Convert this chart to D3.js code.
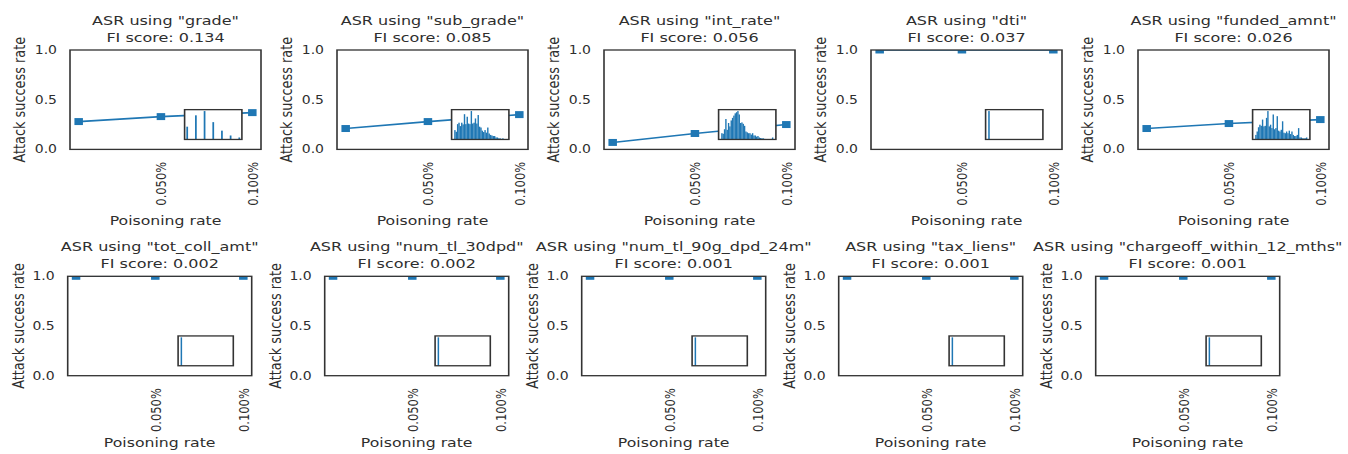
<!DOCTYPE html>
<html>
<head>
<meta charset="utf-8">
<script src="https://cdn.jsdelivr.net/npm/d3@7"></script>
<style>
  body { margin: 0; background: #fff; }
  svg text { font-family: "DejaVu Sans", sans-serif; fill: #2e2e2e; }
</style>
</head>
<body>
<svg id="chart" width="1348" height="454"></svg>
<script>
// ---- data -------------------------------------------------------------
const features = ["grade", "sub_grade", "int_rate", "dti", "funded_amnt",
  "tot_coll_amt", "num_tl_30dpd", "num_tl_90g_dpd_24m", "tax_liens", "chargeoff_within_12_mths"];
const fiScores = [0.134, 0.085, 0.056, 0.037, 0.026, 0.002, 0.002, 0.001, 0.001, 0.001];

const poisonRates = [0.005, 0.05, 0.1];          // percent
const asrGrade = [0.28, 0.33, 0.37];
const asrSubGrade = [0.21, 0.28, 0.35];
const asrIntRate = [0.07, 0.16, 0.25];
const asrDti = [1.0, 1.0, 1.0];
const asrFundedAmnt = [0.21, 0.26, 0.30];
const asrTotCollAmt = [1.0, 1.0, 1.0];
const asrNumTl30dpd = [1.0, 1.0, 1.0];
const asrNumTl90gDpd24m = [1.0, 1.0, 1.0];
const asrTaxLiens = [1.0, 1.0, 1.0];
const asrChargeoff12m = [1.0, 1.0, 1.0];

const rateTicks = [0.05, 0.1];
const asrTicks = [0.0, 0.5, 1.0];

// feature distributions shown in the inset (relative bin heights)
const gradeLevels = ["A", "B", "C", "D", "E", "F", "G"];
const gradeHist = [0.45, 0.85, 1.0, 0.61, 0.31, 0.14, 0.07];
const subGradeHist = [0.33, 0.27, 0.54, 0.59, 0.47, 0.59, 0.53, 0.89, 0.54, 0.80, 0.56, 0.54,
  1.0, 0.56, 0.59, 0.74, 0.56, 0.86, 0.45, 0.42, 0.31, 0.26, 0.33, 0.24, 0.42, 0.21, 0.16,
  0.14, 0.12, 0.12, 0.07, 0.07, 0.04, 0.04, 0.02, 0.04, 0.0, 0.01];
const intRateHist = [0.22, 0.20, 0.36, 0.72, 0.34, 0.58, 0.46, 0.67, 0.76, 0.84, 0.92, 0.96,
  1.0, 0.88, 0.58, 0.60, 0.55, 0.48, 0.28, 0.25, 0.22, 0.22, 0.17, 0.22, 0.14, 0.14, 0.10,
  0.12, 0.07, 0.05, 0.04, 0.04, 0.02, 0.01, 0.01, 0.01, 0.01, 0.02, 0.07];
const fundedAmntHist = [0.16, 0.28, 0.43, 0.52, 0.48, 0.70, 0.46, 0.48, 0.76, 1.0, 0.46, 0.52,
  0.40, 0.88, 0.36, 0.40, 0.82, 0.31, 0.28, 0.34, 0.64, 0.24, 0.22, 0.28, 0.22, 0.31, 0.19,
  0.28, 0.16, 0.12, 0.12, 0.16, 0.40, 0.07, 0.07, 0.04, 0.04, 0.04, 0.07];
// heavily zero-inflated features: nearly all mass lands in the first of 50 bins
const sparseBinCount = 50;
const dtiHist = [1.0, 0.002, 0.001];
const totCollAmtHist = [1.0, 0.001];
const numTl30dpdHist = [1.0, 0.001];
const numTl90gDpd24mHist = [1.0, 0.002];
const taxLiensHist = [1.0, 0.001];
const chargeoff12mHist = [1.0, 0.001];

const panels = [
  { asr: asrGrade, hist: gradeHist, discrete: gradeLevels },
  { asr: asrSubGrade, hist: subGradeHist },
  { asr: asrIntRate, hist: intRateHist },
  { asr: asrDti, hist: dtiHist, bins: sparseBinCount },
  { asr: asrFundedAmnt, hist: fundedAmntHist },
  { asr: asrTotCollAmt, hist: totCollAmtHist, bins: sparseBinCount },
  { asr: asrNumTl30dpd, hist: numTl30dpdHist, bins: sparseBinCount },
  { asr: asrNumTl90gDpd24m, hist: numTl90gDpd24mHist, bins: sparseBinCount },
  { asr: asrTaxLiens, hist: taxLiensHist, bins: sparseBinCount },
  { asr: asrChargeoff12m, hist: chargeoff12mHist, bins: sparseBinCount }
].map((p, i) => Object.assign(p, { feature: features[i], fi: fiScores[i] }));

// ---- layout -----------------------------------------------------------
// the figure is drawn in a taller design space and compressed vertically
const K = 0.82;
const BLUE = "#1f77b4";
const EDGE = "#333333";
const FS_TITLE = 16, FS_LABEL = 15.7, FS_TICK = 14;

const rowTop = [50, 276.3];          // screen px
const rowLeft = [[70, 337, 604, 871, 1138], [67.7, 324.7, 581.7, 838.7, 1095.7]];
const rowWidth = [191, 184];
const boxH = 99.4;

const svg = d3.select("#chart");
const root = svg.append("g").attr("transform", `scale(1,${K})`);

panels.forEach((p, i) => {
  const r = Math.floor(i / 5), c = i % 5;
  const left = rowLeft[r][c], top = rowTop[r] / K;
  const w = rowWidth[r], h = boxH / K;
  const g = root.append("g").attr("transform", `translate(${left},${top})`);

  const x = d3.scaleLinear().domain([0.00025, 0.10475]).range([0, w]);
  const y = d3.scaleLinear().domain([0, 1]).range([h, 0]);

  // title
  const title = g.append("text").attr("x", w / 2).attr("text-anchor", "middle")
    .style("font-size", FS_TITLE + "px");
  title.append("tspan").attr("x", w / 2).attr("y", -25.5 / K)
    .text(`ASR using "${p.feature}"`);
  title.append("tspan").attr("x", w / 2).attr("y", -8 / K)
    .text(`FI score: ${d3.format(".3f")(p.fi)}`);

  // y axis
  const ya = g.append("g").call(d3.axisLeft(y).tickValues(asrTicks)
    .tickFormat(d3.format(".1f")).tickSize(0).tickPadding(13));
  ya.select(".domain").remove();
  ya.selectAll("text").style("font-size", FS_TICK + "px").attr("fill", null);

  // x axis, rotated labels
  const xa = g.append("g").attr("transform", `translate(0,${h})`)
    .call(d3.axisBottom(x).tickValues(rateTicks)
      .tickFormat(d => d3.format(".3f")(d) + "%").tickSize(0));
  xa.select(".domain").remove();
  xa.selectAll("text").style("font-size", FS_TICK + "px").attr("fill", null)
    .attr("transform", "rotate(-90)").attr("text-anchor", "end")
    .attr("x", -12.5 / K).attr("y", 0).attr("dy", "0.36em");

  // axis labels
  g.append("text").attr("text-anchor", "middle").style("font-size", FS_LABEL + "px")
    .attr("transform", `translate(${r === 0 ? -51 : -49.5},${h / 2}) rotate(-90)`)
    .attr("dy", "0.36em")
    .text("Attack success rate");
  g.append("text").attr("text-anchor", "middle").style("font-size", FS_LABEL + "px")
    .attr("x", w / 2).attr("y", h + (r === 0 ? 75.7 : 71) / K)
    .text("Poisoning rate");

  // ASR curve, clipped to the axes box
  const clipId = "clip" + i;
  g.append("clipPath").attr("id", clipId).append("rect")
    .attr("width", w).attr("height", h);
  const plot = g.append("g").attr("clip-path", `url(#${clipId})`);
  const pts = poisonRates.map((rate, k) => [rate, p.asr[k]]);
  plot.append("path").datum(pts)
    .attr("fill", "none").attr("stroke", BLUE).attr("stroke-width", 2)
    .attr("d", d3.line().x(d => x(d[0])).y(d => y(d[1])));
  const ms = 8.5;
  plot.selectAll("rect.m").data(pts).join("rect").attr("class", "m")
    .attr("x", d => x(d[0]) - ms / 2).attr("y", d => y(d[1]) - ms / 2)
    .attr("width", ms).attr("height", ms).attr("fill", BLUE);

  // inset: distribution of the feature
  const iw = 0.3 * w, ih = 0.3 * h;
  const inset = g.append("g").attr("transform", `translate(${0.6 * w},${0.6 * h})`);
  inset.append("rect").attr("width", iw).attr("height", ih).attr("fill", "#fff");
  const hy = d3.scaleLinear().domain([0, d3.max(p.hist) * 1.05]).range([ih, 0]);
  if (p.discrete) {
    const n = p.discrete.length - 1;
    const hx = d3.scaleLinear().domain([-0.05 * n, 1.05 * n]).range([0, iw]);
    const bw = n / 30;
    inset.selectAll("rect.b").data(p.hist).join("rect").attr("class", "b")
      .attr("x", (d, k) => hx(k) - (hx(bw) - hx(0)) / 2).attr("width", hx(bw) - hx(0))
      .attr("y", d => hy(d)).attr("height", d => ih - hy(d)).attr("fill", BLUE);
  } else {
    const n = p.bins || p.hist.length;
    const hx = d3.scaleLinear().domain([-0.05 * n, 1.05 * n]).range([0, iw]);
    inset.selectAll("rect.b").data(p.hist).join("rect").attr("class", "b")
      .attr("x", (d, k) => hx(k)).attr("width", hx(1) - hx(0) + (p.bins ? 0.5 : 0.05))
      .attr("y", d => hy(d)).attr("height", d => ih - hy(d)).attr("fill", BLUE);
  }
  inset.append("rect").attr("width", iw).attr("height", ih)
    .attr("fill", "none").attr("stroke", EDGE).attr("stroke-width", 1.6);

  // axes frame
  g.append("rect").attr("width", w).attr("height", h)
    .attr("fill", "none").attr("stroke", EDGE).attr("stroke-width", 1.6);
});
</script>
</body>
</html>
